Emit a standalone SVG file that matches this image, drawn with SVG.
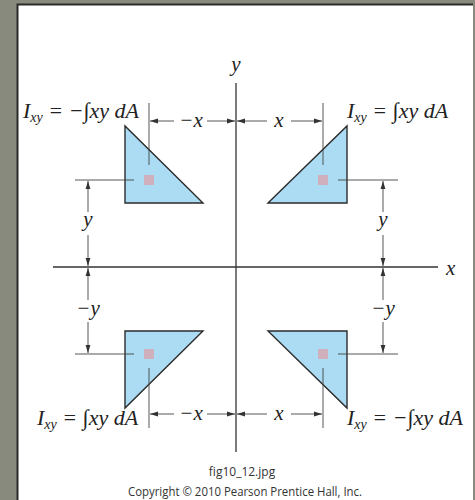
<svg xmlns="http://www.w3.org/2000/svg" width="475" height="500" viewBox="0 0 475 500">
<style>
.axis{stroke:#333;stroke-width:1.3;fill:none}
.dim{stroke:#444;stroke-width:0.9;fill:none}
.tri{fill:#acdcf4;stroke:#2b2b2b;stroke-width:1.4;stroke-linejoin:miter}
.cen{fill:#d0b0bd}
.lab{font-family:"Liberation Serif",serif;font-style:italic;font-size:21px;fill:#222}
.eq{font-size:22px}
.sub{font-size:14px}
.cap{font-family:"Open Sans","Liberation Sans",sans-serif;font-size:12px;fill:#333;text-anchor:middle}
</style>
<defs>
<marker id="ah" viewBox="0 0 8 6" refX="8" refY="3" markerWidth="8" markerHeight="6" orient="auto-start-reverse" markerUnits="userSpaceOnUse">
<path d="M0,0.6 L8,3 L0,5.4 Z" fill="#333"/>
</marker>
</defs>
<rect width="475" height="500" fill="#878a7c"/>
<rect x="17" y="4" width="456" height="500" fill="#fff"/>
<path d="M17.5,500 V4.5 H473" stroke="#2a2a2a" stroke-width="2" fill="none"/>
<g id="axes">
<line class="axis" x1="236" y1="83" x2="236" y2="452"/>
<line class="axis" x1="53" y1="267" x2="438" y2="267"/>
<text class="lab" x="236" y="71" text-anchor="middle">y</text>
<text class="lab" x="446" y="275">x</text>
</g>
<g id="q2">
<polygon class="tri" points="125,126 125,203 203,203"/>
<rect class="cen" x="144" y="175" width="10" height="10"/>
<text class="lab eq" x="23" y="118">I<tspan class="sub" dy="4">xy</tspan><tspan dy="-4"> = −∫xy dA</tspan></text>
</g>
<g id="q1">
<polygon class="tri" points="268,203 347,126 347,203"/>
<rect class="cen" x="318" y="175" width="10" height="10"/>
<text class="lab eq" x="347" y="118">I<tspan class="sub" dy="4">xy</tspan><tspan dy="-4"> = ∫xy dA</tspan></text>
</g>
<g id="q3">
<polygon class="tri" points="125,331 203,331 125,408"/>
<rect class="cen" x="144" y="349" width="10" height="10"/>
<text class="lab eq" x="37" y="425">I<tspan class="sub" dy="4">xy</tspan><tspan dy="-4"> = ∫xy dA</tspan></text>
</g>
<g id="q4">
<polygon class="tri" points="268,331 347,331 347,408"/>
<rect class="cen" x="318" y="349" width="10" height="10"/>
<text class="lab eq" x="347" y="425">I<tspan class="sub" dy="4">xy</tspan><tspan dy="-4"> = −∫xy dA</tspan></text>
</g>
<g id="connectors">
<line class="dim" x1="149" y1="103" x2="149" y2="165"/>
<line class="dim" x1="75" y1="180" x2="134" y2="180"/>
<line class="dim" x1="323" y1="103" x2="323" y2="165"/>
<line class="dim" x1="338" y1="180" x2="398" y2="180"/>
<line class="dim" x1="149" y1="368" x2="149" y2="428"/>
<line class="dim" x1="75" y1="354" x2="134" y2="354"/>
<line class="dim" x1="323" y1="368" x2="323" y2="428"/>
<line class="dim" x1="338" y1="354" x2="398" y2="354"/>
<line class="dim" x1="174" y1="121" x2="150" y2="121" marker-end="url(#ah)"/>
<line class="dim" x1="207" y1="121" x2="235" y2="121" marker-end="url(#ah)"/>
<text class="lab" x="191" y="127" text-anchor="middle">−x</text>
<line class="dim" x1="267" y1="121" x2="237" y2="121" marker-end="url(#ah)"/>
<line class="dim" x1="291" y1="121" x2="322" y2="121" marker-end="url(#ah)"/>
<text class="lab" x="279" y="127" text-anchor="middle">x</text>
<line class="dim" x1="174" y1="414" x2="150" y2="414" marker-end="url(#ah)"/>
<line class="dim" x1="207" y1="414" x2="235" y2="414" marker-end="url(#ah)"/>
<text class="lab" x="191" y="420" text-anchor="middle">−x</text>
<line class="dim" x1="267" y1="414" x2="237" y2="414" marker-end="url(#ah)"/>
<line class="dim" x1="291" y1="414" x2="322" y2="414" marker-end="url(#ah)"/>
<text class="lab" x="279" y="420" text-anchor="middle">x</text>
<line class="dim" x1="88" y1="212" x2="88" y2="181" marker-end="url(#ah)"/>
<line class="dim" x1="88" y1="235" x2="88" y2="266" marker-end="url(#ah)"/>
<text class="lab" x="88" y="226" text-anchor="middle">y</text>
<line class="dim" x1="383" y1="212" x2="383" y2="181" marker-end="url(#ah)"/>
<line class="dim" x1="383" y1="235" x2="383" y2="266" marker-end="url(#ah)"/>
<text class="lab" x="383" y="226" text-anchor="middle">y</text>
<line class="dim" x1="88" y1="300" x2="88" y2="268" marker-end="url(#ah)"/>
<line class="dim" x1="88" y1="322" x2="88" y2="353" marker-end="url(#ah)"/>
<text class="lab" x="88" y="315" text-anchor="middle">−y</text>
<line class="dim" x1="383" y1="300" x2="383" y2="268" marker-end="url(#ah)"/>
<line class="dim" x1="383" y1="322" x2="383" y2="353" marker-end="url(#ah)"/>
<text class="lab" x="383" y="315" text-anchor="middle">−y</text>
</g>
<text class="cap" x="242" y="476">fig10_12.jpg</text>
<text class="cap" x="245" y="496" textLength="234" lengthAdjust="spacingAndGlyphs">Copyright © 2010 Pearson Prentice Hall, Inc.</text>
</svg>
